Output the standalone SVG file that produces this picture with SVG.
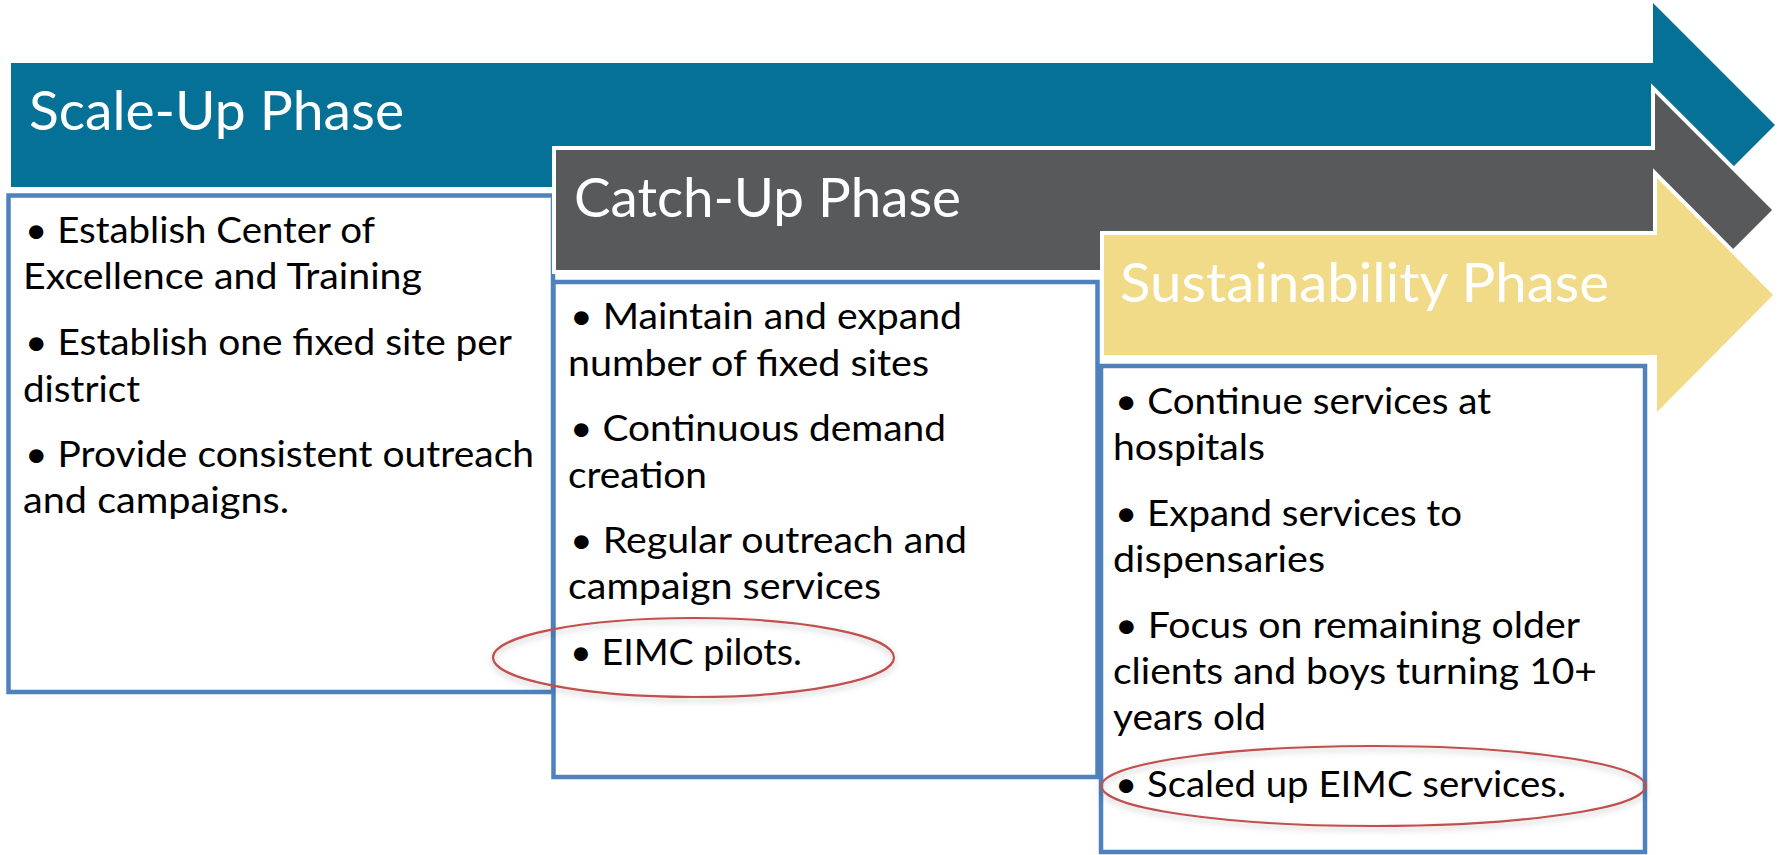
<svg xmlns="http://www.w3.org/2000/svg" width="1781" height="855" viewBox="0 0 1781 855">
<style>
.title{font-family:Lato,"Open Sans","Liberation Sans",sans-serif;font-size:54px;fill:#ffffff}
.body{font-family:Lato,"Liberation Sans",sans-serif;font-size:37.5px;fill:#000000}
.box{fill:#ffffff;stroke:#4F81BD;stroke-width:4.5}
.oval{fill:none;stroke:#C0504D;stroke-width:2.2}
.arrowOut{stroke:#ffffff;stroke-width:4;stroke-linejoin:miter}
</style>
<defs>
<filter id="sh" x="-10%" y="-30%" width="120%" height="160%">
<feDropShadow dx="0" dy="3" stdDeviation="3" flood-color="#000000" flood-opacity="0.25"/>
</filter>
</defs>
<g id="scale-up">
<polygon points="11,63 1653,63 1653,3 1775,125 1653,247 1653,187 11,187" fill="#067196"/>
<text class="title" x="29" y="130" textLength="375" lengthAdjust="spacingAndGlyphs">Scale-Up Phase</text>
<rect class="box" x="8.5" y="195.5" width="544.5" height="496.5"/>
<text class="body" x="25" y="243" textLength="350" lengthAdjust="spacingAndGlyphs">• Establish Center of</text>
<text class="body" x="23" y="289" textLength="399" lengthAdjust="spacingAndGlyphs">Excellence and Training</text>
<text class="body" x="25" y="355" textLength="487" lengthAdjust="spacingAndGlyphs">• Establish one fixed site per</text>
<text class="body" x="23" y="402" textLength="117" lengthAdjust="spacingAndGlyphs">district</text>
<text class="body" x="25" y="467" textLength="509" lengthAdjust="spacingAndGlyphs">• Provide consistent outreach</text>
<text class="body" x="23" y="513" textLength="266" lengthAdjust="spacingAndGlyphs">and campaigns.</text>
</g>
<g id="catch-up">
<polygon class="arrowOut" points="554,148 1653,148 1653,88 1775,210 1653,332 1653,272 554,272" fill="#58595B"/>
<text class="title" x="574" y="217" textLength="387" lengthAdjust="spacingAndGlyphs">Catch-Up Phase</text>
<rect class="box" x="553.5" y="282" width="544" height="495"/>
<text class="body" x="570" y="329" textLength="392" lengthAdjust="spacingAndGlyphs">• Maintain and expand</text>
<text class="body" x="568" y="376" textLength="361" lengthAdjust="spacingAndGlyphs">number of fixed sites</text>
<text class="body" x="570" y="441" textLength="376" lengthAdjust="spacingAndGlyphs">• Continuous demand</text>
<text class="body" x="568" y="488" textLength="139" lengthAdjust="spacingAndGlyphs">creation</text>
<text class="body" x="570" y="553" textLength="397" lengthAdjust="spacingAndGlyphs">• Regular outreach and</text>
<text class="body" x="568" y="599" textLength="313" lengthAdjust="spacingAndGlyphs">campaign services</text>
<text class="body" x="570" y="665" textLength="232" lengthAdjust="spacingAndGlyphs">• EIMC pilots.</text>
</g>
<g id="sustainability">
<polygon class="arrowOut" points="1102,233 1655,233 1655,173 1776,295 1655,417 1655,357 1102,357" fill="#F1DB88"/>
<text class="title" x="1120" y="302" textLength="489" lengthAdjust="spacingAndGlyphs">Sustainability Phase</text>
<rect class="box" x="1101" y="366" width="544" height="486"/>
<text class="body" x="1115" y="414" textLength="376" lengthAdjust="spacingAndGlyphs">• Continue services at</text>
<text class="body" x="1113" y="460" textLength="152" lengthAdjust="spacingAndGlyphs">hospitals</text>
<text class="body" x="1115" y="526" textLength="347" lengthAdjust="spacingAndGlyphs">• Expand services to</text>
<text class="body" x="1113" y="572" textLength="212" lengthAdjust="spacingAndGlyphs">dispensaries</text>
<text class="body" x="1115" y="638" textLength="465" lengthAdjust="spacingAndGlyphs">• Focus on remaining older</text>
<text class="body" x="1113" y="684" textLength="484" lengthAdjust="spacingAndGlyphs">clients and boys turning 10+</text>
<text class="body" x="1113" y="730" textLength="153" lengthAdjust="spacingAndGlyphs">years old</text>
<text class="body" x="1115" y="797" textLength="451" lengthAdjust="spacingAndGlyphs">• Scaled up EIMC services.</text>
</g>
<g id="highlights">
<ellipse class="oval" cx="693.5" cy="657.5" rx="200.5" ry="39.5" filter="url(#sh)"/>
<ellipse class="oval" cx="1373.5" cy="786" rx="272" ry="40" filter="url(#sh)"/>
</g>
</svg>
